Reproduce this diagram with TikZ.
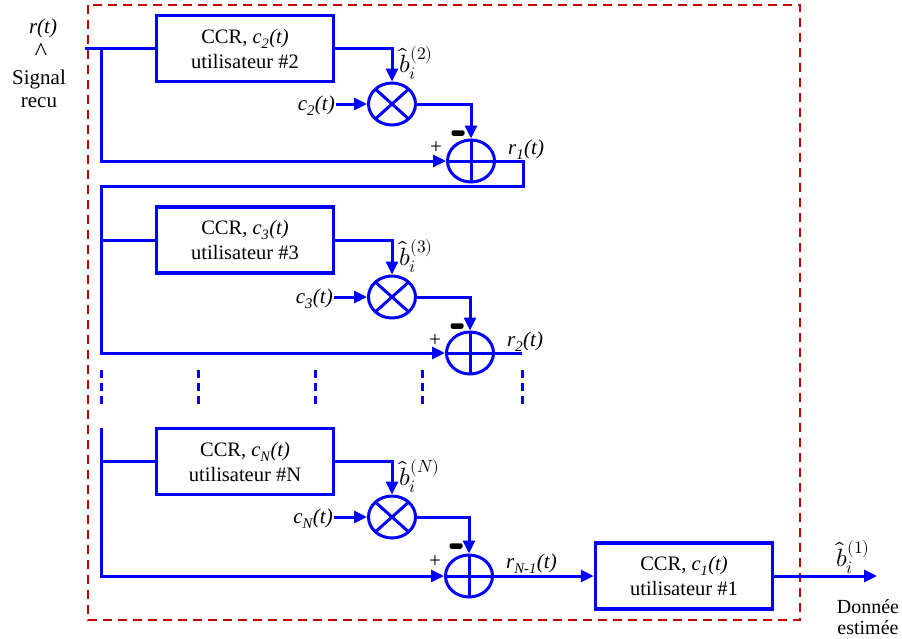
\documentclass[tikz,border=0pt]{standalone}
\usepackage{fontspec}
\usepackage{unicode-math}
\setmainfont{Liberation Serif}
\usepackage{tikz}
\usetikzlibrary{positioning, shapes.geometric, arrows.meta, calc}

\definecolor{traitbleu}{RGB}{0,0,255}
\definecolor{cadrerouge}{RGB}{200,0,0}
\newcommand{\sig}[2]{\textit{#1\textsubscript{#2}(t)}}
\newcommand{\bchap}[1]{$\hat{b}_i^{(#1)}$}

\begin{document}
\begin{tikzpicture}[x=1pt, y=-1pt,
            ccr/.style={draw=traitbleu, line width=3.5pt, rectangle, minimum width=177pt, minimum height=66pt, align=center, font=\fontsize{20.5}{25}\selectfont},
            mult/.style={draw=traitbleu, line width=3pt, ellipse, minimum width=47pt, minimum height=42pt, inner sep=0pt,
                path picture={\draw[traitbleu, line width=3pt] (path picture bounding box.north west) -- (path picture bounding box.south east)
                    (path picture bounding box.north east) -- (path picture bounding box.south west);}},
            somme/.style={draw=traitbleu, line width=3pt, ellipse, minimum width=47pt, minimum height=42pt, inner sep=0pt,
                path picture={\draw[traitbleu, line width=3pt] (path picture bounding box.north) -- (path picture bounding box.south)
                    (path picture bounding box.east) -- (path picture bounding box.west);}},
            link/.style={draw=traitbleu, line width=3pt},
            fleche/.style={link, -{Triangle[length=13pt, width=12pt]}},
            pointille/.style={draw=traitbleu, line width=3pt, dash pattern=on 8pt off 5pt},
            lab/.style={font=\fontsize{21}{24}\selectfont, inner sep=1pt},
            blab/.style={font=\fontsize{25}{28}\selectfont, inner sep=0pt, anchor=west},
            plus/.style={font=\fontsize{21}{22}\selectfont, inner sep=0pt},
            moins/.style={fill=black, rounded corners=2pt, minimum width=13pt, minimum height=5.5pt, inner sep=0pt},
        ]
        \useasboundingbox (0,0) rectangle (902,638);

        % cadre
        \draw[cadrerouge, line width=2.5pt, dash pattern=on 9pt off 6pt] (88,5) rectangle (800,620);

        % etage 1
        \node[ccr] (ccrA) at (245,48.5) {CCR, \sig{c}{2}\\utilisateur \#2};
        \node[mult] (multA) at (392,104) {};
        \node[somme] (addA) at (471,161) {};
        \node[lab, anchor=east] (cA) at (336,106) {\sig{c}{2}};
        \node[blab] (bA) at (399,63) {\bchap{2}};
        \node[lab, anchor=west] (rA) at (507,150) {\sig{r}{1}};
        \node[plus] (pA) at (436,148) {+};
        \node[moins] (mA) at (458,133) {};

        % etage 2
        \node[ccr] (ccrB) at (245,240) {CCR, \sig{c}{3}\\utilisateur \#3};
        \node[mult] (multB) at (392,297) {};
        \node[somme] (addB) at (470,353) {};
        \node[lab, anchor=east] (cB) at (334,299) {\sig{c}{3}};
        \node[blab] (bB) at (399,256) {\bchap{3}};
        \node[lab, anchor=west] (rB) at (506,342) {\sig{r}{2}};
        \node[plus] (pB) at (435,341) {+};
        \node[moins] (mB) at (457,326) {};

        % etage N
        \node[ccr] (ccrC) at (245,461.5) {CCR, \sig{c}{N}\\utilisateur \#N};
        \node[mult] (multC) at (392,517) {};
        \node[somme] (addC) at (469,576) {};
        \node[lab, anchor=east] (cC) at (334,519) {\sig{c}{N}};
        \node[blab] (bC) at (399,476) {\bchap{N}};
        \node[lab, anchor=west] (rC) at (505,564) {\sig{r}{N-1}};
        \node[plus] (pC) at (435,562) {+};
        \node[moins] (mC) at (456,546) {};

        % etage final
        \node[blab] (bD) at (836,557) {\bchap{1}};
        \node[ccr] (ccrD) at (684,576) {CCR, \sig{c}{1}\\utilisateur \#1};
        \node[font=\fontsize{20}{21}\selectfont, align=center] (sortie) at (868,617) {Donnée\\estimée};

        % entree
        \node[lab] (rt) at (43,28) {\textit{r(t)}};
        \node[font=\fontsize{26}{26}\selectfont, inner sep=0pt] (chap) at (41,52) {\^{}};
        \node[font=\fontsize{21}{23}\selectfont, align=center] (entree) at (39,89) {Signal\\recu};

        % points
        \coordinate (in) at (85,48.5);
        \coordinate (jA) at (101,48.5);
        \coordinate (tA) at (523,186);
        \coordinate (kA) at (101,186);
        \coordinate (fB) at (522,353);
        \coordinate (kC) at (101,428);
        \coordinate (out) at (877,576);

        % liaisons
        \draw[link] (in) -- (ccrA.west);
        \draw[fleche] (jA) |- (addA.west);
        \draw[fleche] (ccrA.east) -| (multA.north);
        \draw[fleche] (cA.east |- multA.west) -- (multA.west);
        \draw[fleche] (multA.east) -| (addA.north);
        \draw[fleche] (addA.east) -| (tA) -- (kA) |- (addB.west);

        \draw[link] (kA |- ccrB.west) -- (ccrB.west);
        \draw[fleche] (ccrB.east) -| (multB.north);
        \draw[fleche] (cB.east |- multB.west) -- (multB.west);
        \draw[fleche] (multB.east) -| (addB.north);
        \draw[link] (addB.east) -- (fB);

        \foreach \x in {101,198,315,422,522}
            \draw[pointille] (\x,370) -- (\x,406);

        \draw[fleche] (kC) |- (addC.west);
        \draw[link] (kC |- ccrC.west) -- (ccrC.west);
        \draw[fleche] (ccrC.east) -| (multC.north);
        \draw[fleche] (cC.east |- multC.west) -- (multC.west);
        \draw[fleche] (multC.east) -| (addC.north);
        \draw[fleche] (addC.east) -- (ccrD.west);
        \draw[fleche] (ccrD.east) -- (out);

    \end{tikzpicture}
\end{document}
